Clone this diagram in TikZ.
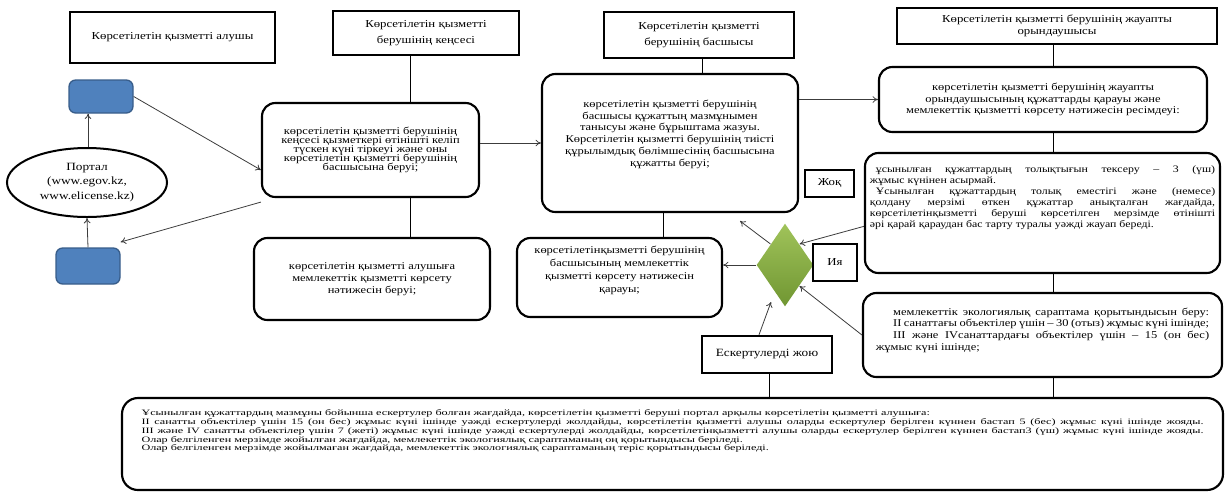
\documentclass[tikz,border=0pt]{standalone}
\usepackage{fontspec}
\setmainfont{Liberation Serif}[FakeStretch=1.2]
\newfontfamily\widefont{Liberation Serif}[FakeStretch=1.47]
\usetikzlibrary{shapes.geometric,arrows.meta}
\newcommand\tightlines{\lineskiplimit=-20pt\relax}
\AtBeginDocument{\tightlines}

\definecolor{portalblue}{RGB}{79,129,189}
\definecolor{portaledge}{RGB}{56,93,138}
\definecolor{greentop}{RGB}{160,195,90}
\definecolor{greenbot}{RGB}{112,150,50}
\definecolor{arrowgray}{RGB}{60,60,60}

\tikzset{every picture/.style={line width=0.75pt}}
\tikzset{
  hdrbox/.style={draw, line width=2pt, align=center, inner sep=2pt, font=\fontsize{8}{9.5}\selectfont},
  stagebox/.style={draw, line width=1.6pt, rounded corners=10pt, align=center, inner sep=2pt, font=\fontsize{7.8}{8.8}\selectfont\tightlines},
  tagbox/.style={draw, line width=1.8pt, inner sep=2pt, font=\fontsize{8}{9}\selectfont},
  portalbox/.style={draw=portaledge, fill=portalblue, line width=1pt, rounded corners=5pt},
  flow/.style={draw=arrowgray, line width=0.6pt, -{To[length=4pt,width=5pt]}},
  link/.style={draw=black, line width=0.75pt},
}

\begin{document}
\begin{tikzpicture}[x=0.75pt,y=0.75pt,yscale=-1,xscale=1]
    \useasboundingbox (0,0) rectangle (1225,494);
    %Headers
    \draw (172.5,37.5) node (hdrA) [hdrbox, minimum width=153.75pt, minimum height=38.25pt] {Көрсетілетін қызметті алушы};
    \draw (426,33) node (hdrB) [hdrbox, minimum width=139.5pt, minimum height=33pt, font=\fontsize{8}{12}\selectfont] {Көрсетілетін қызметті\\ берушінің кеңсесі};
    \draw (699,35) node (hdrC) [hdrbox, minimum width=142.5pt, minimum height=34.5pt, font=\fontsize{8}{12}\selectfont] {Көрсетілетін қызметті\\ берушінің басшысы};
    \draw (1057,26) node (hdrD) [hdrbox, minimum width=240pt, minimum height=27pt, font=\fontsize{8}{8.8}\selectfont] {Көрсетілетін қызметті берушінің жауапты\\ орындаушысы};
    %Portal
    \draw (87,182.5) node (portal) [ellipse, draw, line width=1.5pt, minimum width=120pt, minimum height=51.75pt, inner sep=0pt, align=center, font=\fontsize{8.3}{11}\selectfont] {Портал\\ (www.egov.kz,\\ www.elicense.kz)};
    \draw (101,96.5) node (blueA) [portalbox, minimum width=48pt, minimum height=24.75pt] {};
    \draw (88,266) node (blueB) [portalbox, minimum width=48pt, minimum height=27pt] {};
    %Stages
    \draw (370.5,150) node (box5) [stagebox, minimum width=162.75pt, minimum height=70.5pt, font=\fontsize{7.8}{6.8}\selectfont\tightlines] {көрсетілетін қызметті берушінің\\ кеңсесі қызметкері өтінішті келіп\\ түскен күні тіркеуі және оны\\ көрсетілетін қызметті берушінің\\ басшысына беруі;};
    \draw (372,279) node (box6) [stagebox, minimum width=177pt, minimum height=61.5pt] {көрсетілетін қызметті алушыға\\ мемлекеттік қызметті көрсету\\ нәтижесін беруі;};
    \draw (670,143) node (box7) [stagebox, minimum width=192pt, minimum height=103.5pt] {көрсетілетін қызметті берушінің\\ басшысы құжаттың мазмұнымен\\ танысуы және бұрыштама жазуы.\\ Көрсетілетін қызметті берушінің тиісті\\ құрылымдық бөлімшесінің басшысына\\ құжатты беруі;\\[6pt]};
    \draw (619.5,277.5) node (box8) [stagebox, minimum width=153.75pt, minimum height=59.25pt, font=\fontsize{7.8}{9.8}\selectfont] {көрсетілетінқызметті берушінің\\ басшысының мемлекеттік\\ қызметті көрсету нәтижесін\\ қарауы;\\[2pt]};
    \draw (1043,99.5) node (box13) [stagebox, minimum width=246pt, minimum height=48.75pt] {көрсетілетін қызметті берушінің жауапты\\ орындаушысының құжаттарды қарауы және\\ мемлекеттік қызметті көрсету нәтижесін ресімдеуі:};
    \draw (1042.5,213) node (box14) [stagebox, minimum width=266.25pt, minimum height=90pt, text width=259pt, align=justify, font=\fontsize{7.4}{8.2}\selectfont\tightlines] {\hspace*{4.5pt}ұсынылған құжаттардың толықтығын тексеру – 3 (үш)\linebreak жұмыс күнінен асырмай.\par
      \hspace*{4.5pt}Ұсынылған құжаттардың толық еместігі және (немесе)\linebreak қолдану мерзімі өткен құжаттар анықталған жағдайда,\linebreak көрсетілетінқызметті беруші көрсетілген мерзімде өтінішті\linebreak әрі қарай қараудан бас тарту туралы уәжді жауап береді.\par\vspace{16pt}\null};
    \draw (1042.5,335) node (box15) [stagebox, minimum width=269.25pt, minimum height=63pt, text width=250pt, align=justify] {\hspace*{13pt}мемлекеттік экологиялық сараптама қорытындысын беру:{\parfillskip=0pt\par}
      \hspace*{13pt}II санаттағы объектілер үшін – 30 (отыз) жұмыс күні ішінде;{\parfillskip=0pt\par}
      \hspace*{13pt}III және IVсанаттардағы объектілер үшін – 15 (он бес)\linebreak жұмыс күні ішінде;\par\vspace{0pt}\null};
    \draw (672.5,444) node (box16) [stagebox, rounded corners=12pt, minimum width=825.75pt, minimum height=69pt, text width=796.5pt, align=justify, font=\widefont\fontsize{6.2}{6.6}\selectfont\tightlines] {Ұсынылған құжаттардың мазмұны бойынша ескертулер болған жағдайда, көрсетілетін қызметті беруші портал арқылы көрсетілетін қызметті алушыға:\par
      II санатты объектілер үшін 15 (он бес) жұмыс күні ішінде уәжді ескертулерді жолдайды, көрсетілетін қызметті алушы оларды ескертулер берілген күннен бастап 5 (бес) жұмыс күні ішінде жояды.{\parfillskip=0pt\par}
      III және IV санатты объектілер үшін 7 (жеті) жұмыс күні ішінде уәжді ескертулерді жолдайды, көрсетілетінқызметті алушы оларды ескертулер берілген күннен бастап3 (үш) жұмыс күні ішінде жояды.{\parfillskip=0pt\par}
      Олар белгіленген мерзімде жойылған жағдайда, мемлекеттік экологиялық сараптаманың оң қорытындысы беріледі.\par
      Олар белгіленген мерзімде жойылмаған жағдайда, мемлекеттік экологиялық сараптаманың теріс қорытындысы беріледі.\par\vspace{14pt}\null};
    %Decision
    \draw (785,265) node (dia) [diamond, top color=greentop, bottom color=greenbot, draw=none, inner sep=0pt, minimum width=42.75pt, minimum height=62.25pt] {};
    \draw (829.5,183.5) node (jok) [tagbox, minimum width=36.75pt, minimum height=20.25pt] {Жоқ};
    \draw (835,262.5) node (iya) [tagbox, minimum width=33pt, minimum height=27.75pt] {Ия};
    \draw (767,354.5) node (esk) [tagbox, minimum width=97.5pt, minimum height=27.75pt, font=\fontsize{8.3}{9}\selectfont] {Ескертулерді жою};
    \coordinate (noTip) at (740,221);
    \coordinate (eskTip) at (771,302);
    %Straight Lines
    \draw [link] ([xshift=-12pt]hdrB.south) -- ([xshift=-12pt]hdrB.south |- box5.north);
    \draw [link] ([xshift=-12pt]hdrB.south |- box5.south) -- ([xshift=-12pt]hdrB.south |- box6.north);
    \draw [link] ([xshift=2.25pt]hdrC.south) -- ([xshift=2.25pt]hdrC.south |- box7.north);
    \draw [link] ([xshift=-5pt]box7.south) -- ([xshift=-5pt]box7.south |- box8.north);
    \draw [link] ([xshift=-3pt]hdrD.south) -- ([xshift=-3pt]hdrD.south |- box13.north);
    \draw [link] ([xshift=-3pt]hdrD.south |- box13.south) -- ([xshift=-3pt]hdrD.south |- box14.north);
    \draw [link] ([xshift=-3pt]hdrD.south |- box14.south) -- ([xshift=-3pt]hdrD.south |- box15.north);
    \draw [link] ([xshift=-3pt]hdrD.south |- box15.south) -- ([xshift=-3pt]hdrD.south |- box16.north);
    \draw [link] ([xshift=2pt]esk.south) -- ([xshift=2pt]esk.south |- box16.north);
    %Arrows
    \draw [flow] (portal.north -| 88,0) -- (blueA.south -| 88,0);
    \draw [flow] (blueB.north) -- (portal.south);
    \draw [flow] (blueA.east) -- ([yshift=15pt]box5.west);
    \draw [flow] ([yshift=3pt]box5.south west) -- ([yshift=-4pt]blueB.north east);
    \draw [flow] (box5.east |- box7.west) -- (box7.west);
    \draw [flow] (box7.east |- box13.west) -- (box13.west);
    \draw [flow] ([yshift=10pt]box14.west) -- (dia.north east);
    \draw [flow] (box15.west) -- (dia.south east);
    \draw [flow] (dia.north west) -- (noTip);
    \draw [flow] (dia.west) -- (dia.west -| box8.east);
    \draw [flow] ([xshift=-6pt]esk.north) -- (eskTip);
\end{tikzpicture}
\end{document}
